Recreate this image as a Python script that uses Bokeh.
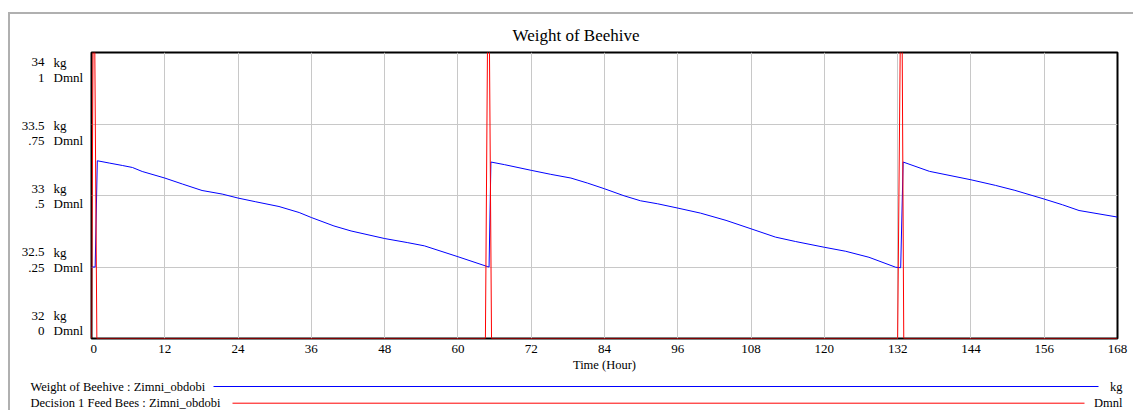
from bokeh.plotting import figure
from bokeh.models import Range1d, FixedTicker, LinearAxis, ColumnDataSource
from bokeh.layouts import column, row
from bokeh.embed import file_html
from bokeh.resources import INLINE

# ---------------- data ----------------
title_text = "Weight of Beehive"
x_label = "Time (Hour)"
x_ticks = [0, 12, 24, 36, 48, 60, 72, 84, 96, 108, 120, 132, 144, 156, 168]

kg_tick_values = [34, 33.5, 33, 32.5, 32]
kg_tick_labels = ["34", "33.5", "33", "32.5", "32"]
dmnl_tick_labels = ["1", ".75", ".5", ".25", "0"]

weight_t = [0, 0.6, 0.95, 2.9, 5.05, 6.7, 8.3, 12, 14.9, 18.1, 21.4, 24, 26.9, 30.7, 34,
            36, 39.7, 42.5, 48, 51.7, 54.5, 60, 64.9, 65.1, 65.4, 67.6, 72, 75.2, 78.5, 81.2,
            84, 87.2, 89.9, 92.7, 96, 99.7, 103.9, 108, 112, 115.3, 120, 123.5, 127.3, 131.7,
            132.5, 132.9, 137.2, 144, 148, 151.2, 156, 159, 161.7, 168]
weight_kg = [32.5, 32.5, 33.243, 33.227, 33.210, 33.196, 33.168, 33.122, 33.080, 33.035, 33.010,
             32.982, 32.956, 32.923, 32.881, 32.846, 32.787, 32.752, 32.699, 32.671, 32.648,
             32.572, 32.502, 32.5, 33.234, 33.216, 33.176, 33.148, 33.122, 33.087, 33.047,
             32.998, 32.963, 32.942, 32.912, 32.877, 32.826, 32.767, 32.709, 32.678, 32.638,
             32.610, 32.568, 32.498, 32.495, 33.234, 33.169, 33.110, 33.071, 33.036, 32.975,
             32.935, 32.895, 32.849]

feed_t = [0, 0.375, 0.875, 64.5, 65.0, 65.5, 132.0, 132.625, 133.0, 168]
feed_dmnl = [0, 1.5, 0, 0, 1.5, 0, 0, 1.5, 0, 0]

legend_names = ["Weight of Beehive : Zimni_obdobi", "Decision 1 Feed Bees : Zimni_obdobi"]
legend_units = ["kg", "Dmnl"]
series_colors = ["#0000ff", "#ff0000"]

FONT = "Liberation Serif"
GRID = "#c8c8c8"
CHROME = "#b0b0b0"

# ---------------- geometry (page pixels) ----------------
TOTAL_W, TOTAL_H = 1133, 410
LEFT_W = 90
TOP_H = 376
FRAME_TOP, FRAME_BOTTOM, FRAME_RIGHT = 52, 338, 1117

# ---------------- main chart ----------------
p = figure(width=TOTAL_W - LEFT_W, height=TOP_H, output_backend="svg", toolbar_location=None,
           x_range=Range1d(0, 168), y_range=Range1d(32, 34),
           min_border_left=1, min_border_right=TOTAL_W - FRAME_RIGHT,
           min_border_top=FRAME_TOP, min_border_bottom=TOP_H - FRAME_BOTTOM,
           y_axis_location=None, x_axis_location=None)
p.extra_y_ranges = {"dmnl": Range1d(0, 1)}

p.title.text = title_text
p.title.align = "left"
p.title.offset = 421
p.title.text_font = FONT
p.title.text_font_size = "17px"
p.title.text_font_style = "normal"
p.title.text_color = "black"
p.title.standoff = 15

xa = LinearAxis(ticker=FixedTicker(ticks=x_ticks), axis_label=x_label)
xa.axis_line_color = None
xa.major_tick_line_color = None
xa.minor_tick_line_color = None
xa.major_tick_out = 0
xa.major_tick_in = 0
xa.major_label_standoff = 6
xa.major_label_text_font = FONT
xa.major_label_text_font_size = "13px"
xa.major_label_text_color = "black"
xa.axis_label_text_font = FONT
xa.axis_label_text_font_size = "12.5px"
xa.axis_label_text_font_style = "normal"
xa.axis_label_text_color = "black"
xa.axis_label_standoff = 2
p.add_layout(xa, "below")

p.xgrid.ticker = FixedTicker(ticks=x_ticks)
p.xgrid.grid_line_color = GRID
p.ygrid.ticker = FixedTicker(ticks=[32.5, 33, 33.5])
p.ygrid.grid_line_color = GRID
p.outline_line_color = "black"
p.outline_line_width = 2
p.background_fill_color = "white"
p.border_fill_color = None

p.line(weight_t, weight_kg, line_color=series_colors[0], line_width=1)
p.line(feed_t, feed_dmnl, line_color=series_colors[1], line_width=1, y_range_name="dmnl")

# ---------------- left tick-label panel (shares the kg scale) ----------------
lp = figure(width=LEFT_W, height=TOP_H, output_backend="svg", toolbar_location=None,
            x_range=Range1d(0, LEFT_W), y_range=p.y_range,
            min_border_left=0, min_border_right=0,
            min_border_top=FRAME_TOP, min_border_bottom=TOP_H - FRAME_BOTTOM,
            x_axis_location=None, y_axis_location=None)
lp.outline_line_color = None
lp.grid.visible = False
lp.background_fill_color = None
lp.border_fill_color = None

# labels are spread evenly over the axis (Vensim style): pixel offsets from each tick
kg_off = [9.7, 1.5, -7.0, -14.8, -23.0]
row_gap = 15.3
n = len(kg_tick_values)
num_src = ColumnDataSource(dict(
    y=kg_tick_values + kg_tick_values,
    text=kg_tick_labels + dmnl_tick_labels,
    off=kg_off + [o + row_gap for o in kg_off],
    x=[44] * (2 * n)))
unit_src = ColumnDataSource(dict(
    y=kg_tick_values + kg_tick_values,
    text=["kg"] * n + ["Dmnl"] * n,
    off=kg_off + [o + row_gap for o in kg_off],
    x=[53] * (2 * n)))
lp.text(x="x", y="y", text="text", y_offset="off", source=num_src, text_align="right",
        text_baseline="middle", text_font={"value": FONT}, text_font_size="13px",
        text_color="black")
lp.text(x="x", y="y", text="text", y_offset="off", source=unit_src, text_align="left",
        text_baseline="middle", text_font={"value": FONT}, text_font_size="13px",
        text_color="black")

# ---------------- legend strip ----------------
LEG_H = TOTAL_H - TOP_H
g = figure(width=TOTAL_W, height=LEG_H, output_backend="svg", toolbar_location=None,
           x_range=Range1d(0, TOTAL_W), y_range=Range1d(TOTAL_H, TOP_H),
           min_border=0, x_axis_location=None, y_axis_location=None)
g.outline_line_color = None
g.grid.visible = False
g.background_fill_color = None
g.border_fill_color = None

leg_y = [386, 402.7]
leg_x0 = [213, 232]
leg_x1 = [1098, 1084]
g.text(x=[30, 30], y=leg_y, text=legend_names, text_align="left", text_baseline="middle",
       text_font={"value": FONT}, text_font_size="12.5px", text_color="black")
g.text(x=[1122, 1122], y=leg_y, text=legend_units, text_align="right", text_baseline="middle",
       text_font={"value": FONT}, text_font_size="12.5px", text_color="black")
g.segment(x0=leg_x0, y0=leg_y, x1=leg_x1, y1=leg_y, line_color=series_colors, line_width=1)

layout = column(row(lp, p, spacing=0), g, spacing=0)
layout.styles = {
    "background": (f"linear-gradient({CHROME},{CHROME}) 8px 12px / 2px 398px no-repeat, "
                   f"linear-gradient({CHROME},{CHROME}) 8px 12px / 1125px 2px no-repeat, white")
}

open("out.html", "w").write(file_html(layout, INLINE))
